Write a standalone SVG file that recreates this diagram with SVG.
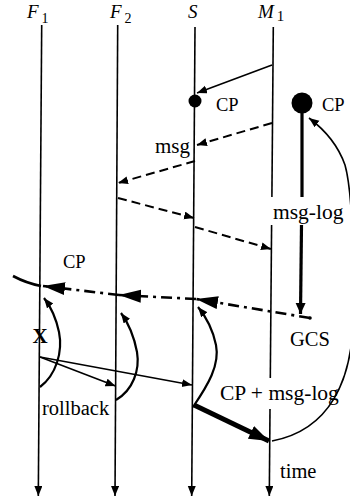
<svg xmlns="http://www.w3.org/2000/svg" width="350" height="497" viewBox="0 0 350 497">
  <style>
    text { font-family: "Liberation Serif", "DejaVu Serif", serif; fill: #000; }
    .it { font-style: italic; }
    .life { stroke: #000; stroke-width: 1.6; fill: none; }
    .thin { stroke: #000; stroke-width: 1.6; fill: none; }
    .dash { stroke: #000; stroke-width: 2; fill: none; stroke-dasharray: 9 5; }
    .gcs { stroke: #000; stroke-width: 2.6; fill: none; stroke-dasharray: 11 5 3 5; }
    .curve { stroke: #000; stroke-width: 2.2; fill: none; }
  </style>
  <defs>
    <marker id="a-thin" markerUnits="userSpaceOnUse" markerWidth="11" markerHeight="9" refX="10" refY="4" orient="auto">
      <path d="M0,0 L10,4 L0,8 z" fill="#000"/>
    </marker>
    <marker id="a-gcs" markerUnits="userSpaceOnUse" markerWidth="23" markerHeight="14" refX="22" refY="6.5" orient="auto">
      <path d="M0,0 L22,6.5 L0,13 z" fill="#000"/>
    </marker>
    <marker id="a-thick" markerUnits="userSpaceOnUse" markerWidth="21" markerHeight="15" refX="20" refY="7" orient="auto">
      <path d="M0,0 L20,7 L0,14 z" fill="#000"/>
    </marker>
    <marker id="a-stem" markerUnits="userSpaceOnUse" markerWidth="12" markerHeight="11" refX="11" refY="5" orient="auto">
      <path d="M0,0 L11,5 L0,10 z" fill="#000"/>
    </marker>
  </defs>

  <rect x="0" y="0" width="350" height="497" fill="#fff"/>

  <!-- process lifelines -->
  <g id="F1">
    <line class="life" x1="41.7" y1="25" x2="38.3" y2="496" marker-end="url(#a-thin)"/>
    <text class="it" font-family="Liberation Serif, serif" x="27" y="18" font-size="19">F<tspan font-style="normal" font-size="14" dx="3" dy="5">1</tspan></text>
  </g>
  <g id="F2">
    <line class="life" x1="117.7" y1="25" x2="115" y2="496" marker-end="url(#a-thin)"/>
    <text class="it" font-family="Liberation Serif, serif" x="110" y="18" font-size="19">F<tspan font-style="normal" font-size="14" dx="3" dy="5">2</tspan></text>
  </g>
  <g id="S">
    <line class="life" x1="195" y1="27" x2="191.7" y2="496" marker-end="url(#a-thin)"/>
    <text class="it" font-family="Liberation Serif, serif" x="188" y="18" font-size="19">S</text>
    <circle cx="195" cy="101" r="6.5" fill="#000"/>
    <text font-family="Liberation Serif, serif" x="216" y="111" font-size="18.5">CP</text>
  </g>
  <g id="M1">
    <line class="life" x1="273.3" y1="27" x2="271.9" y2="197"/>
    <line class="life" x1="271.6" y1="225" x2="270.3" y2="378"/>
    <line class="life" x1="270" y1="409" x2="269.3" y2="496" marker-end="url(#a-thin)"/>
    <text class="it" font-family="Liberation Serif, serif" x="258" y="18" font-size="19">M<tspan font-style="normal" font-size="15" dx="3" dy="3">1</tspan></text>
  </g>

  <!-- stable storage checkpoint with message log -->
  <g id="log">
    <circle cx="302" cy="103" r="10.5" fill="#000"/>
    <text font-family="Liberation Serif, serif" x="322" y="111" font-size="18.5">CP</text>
    <line x1="302" y1="103" x2="302" y2="197" stroke="#000" stroke-width="3.2"/>
    <line x1="301.5" y1="225" x2="300.5" y2="314" stroke="#000" stroke-width="3.2" marker-end="url(#a-stem)"/>
    <text font-family="Liberation Serif, serif" x="273" y="219" font-size="21.5">msg-log</text>
  </g>

  <!-- labels -->
  <g id="labels" font-family="Liberation Serif, serif">
    <text x="155" y="153" font-size="21">msg</text>
    <text x="63" y="268" font-size="18.5">CP</text>
    <text x="290" y="346" font-size="20.5">GCS</text>
    <text x="40" y="343" font-size="21" font-weight="bold" text-anchor="middle">X</text>
    <text x="42" y="415" font-size="20.5">rollback</text>
    <text x="220" y="400" font-size="21.5">CP + msg-log</text>
    <text x="280" y="478" font-size="20.5">time</text>
  </g>

  <!-- messages, rollbacks and the global checkpoint line -->
  <g id="connectors">
    <line class="thin" x1="272" y1="65" x2="197" y2="93" stroke-width="2" marker-end="url(#a-thin)"/>

    <line class="dash" x1="272" y1="123" x2="197" y2="145" marker-end="url(#a-thin)"/>
    <line class="dash" x1="195" y1="161" x2="118" y2="183" marker-end="url(#a-thin)"/>
    <line class="dash" x1="118" y1="198" x2="194" y2="218" marker-end="url(#a-thin)"/>
    <line class="dash" x1="195" y1="227" x2="271" y2="249" marker-end="url(#a-thin)"/>

    <path class="gcs" d="M310,318 L196,299" marker-end="url(#a-gcs)"/>
    <path class="gcs" d="M196,299 L119,295" marker-end="url(#a-gcs)"/>
    <path class="gcs" d="M119,295 L43,286" marker-end="url(#a-gcs)"/>
    <path d="M41,286 Q26,283 13,276" stroke="#000" stroke-width="2.6" fill="none"/>
    <circle cx="310" cy="318" r="1.8" fill="#000"/>

    <line class="thin" x1="40" y1="357" x2="115.5" y2="386" marker-end="url(#a-thin)"/>
    <line class="thin" x1="40" y1="357" x2="192" y2="385" marker-end="url(#a-thin)"/>

    <path class="curve" d="M40,387 C56,375 63,352 59,332 C56,318 51,307 44,298" marker-end="url(#a-thin)"/>
    <path class="curve" d="M116,400 C133,390 140,370 137,352 C134,336 129,324 121,313" marker-end="url(#a-thin)"/>
    <path class="curve" d="M193,407 C208,385 220,365 216,345 C213,330 207,318 198,307" marker-end="url(#a-thin)"/>

    <line x1="194" y1="405" x2="269" y2="441" stroke="#000" stroke-width="5" marker-end="url(#a-thick)"/>

    <path class="thin" d="M272,441 C330,430 352,380 353,320 C354,240 352,190 345,165 C338,145 325,130 309,118" marker-end="url(#a-thin)"/>
  </g>
</svg>
